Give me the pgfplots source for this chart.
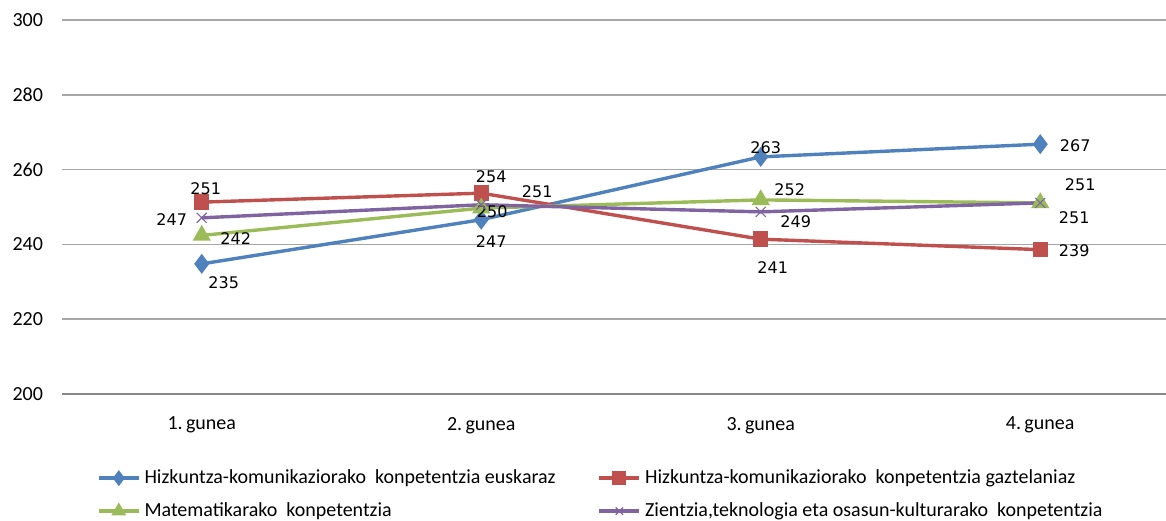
\documentclass[border=0pt]{standalone}
\usepackage{pgfplots}
\pgfplotsset{compat=1.18}
\usepackage{pgfplotstable}
\usepackage{fontspec}
\setmainfont{Carlito}
\newfontfamily\labfont{DejaVu Sans}
\definecolor{cblue}{HTML}{4F81BD}
\definecolor{cred}{HTML}{C0504D}
\definecolor{cgreen}{HTML}{9BBB59}
\definecolor{cpurple}{HTML}{8064A2}
\definecolor{cgrid}{HTML}{A6A6A6}
\definecolor{caxis}{HTML}{868686}

\pgfplotstableread{
x y dx dy
1 234.8 11 -9.5
2 246.6 5 -11
3 263.4 2.5 4.5
4 266.8 17.5 -1
}\tblue
\pgfplotstableread{
x y dx dy
1 251.3 2 6.5
2 253.7 5 8
3 241.4 6 -14
4 238.6 17 -0.5
}\tred
\pgfplotstableread{
x y dx dy
1 242.4 17 -1.5
2 249.7 5.5 -2
3 251.9 14.5 5
4 251.1 17 -7.5
}\tgreen
\pgfplotstableread{
x y dx dy
1 247.1 -15 -1
2 250.6 28 6.5
3 248.7 17.5 -5
4 251.1 20 9
}\tpurple

\begin{document}
\begin{tikzpicture}
\useasboundingbox (-31pt,-63pt) rectangle (552pt,197pt);
\begin{axis}[
  scale only axis,
  width=552pt, height=187pt,
  xmin=0.5, xmax=4.45,
  ymin=200, ymax=300,
  ytick={200,220,240,260,280,300},
  xtick={1,2,3,4},
  xticklabels={1.\,gunea,2.\,gunea,3.\,gunea,4.\,gunea},
  /pgf/number format/assume math mode=true,
  major tick length=0pt,
  axis lines*=left,
  y axis line style={draw=none},
  x axis line style={draw=caxis, line width=0.8pt},
  ymajorgrids,
  major grid style={draw=cgrid, line width=0.8pt},
  tick label style={font=\fontsize{10}{12}\selectfont},
  yticklabel style={xshift=-6pt},
  xticklabel style={yshift=-8pt},
  clip=false,
  legend columns=2,
  legend cell align=left,
  legend style={draw=none, fill=none, at={(0.026,-0.18)}, anchor=north west,
    font=\fontsize{10}{12}\selectfont, row sep=4pt,
    /tikz/every even column/.append style={column sep=19pt}},
  legend image code/.code={
    \draw[#1, mark size=2.6pt, mark repeat=2, mark phase=2] plot coordinates {(0pt,0pt) (10pt,0pt) (20pt,0pt)};},
  nodes near coords={\pgfmathprintnumber[fixed,precision=0,assume math mode=true]{\pgfplotspointmeta}},
  visualization depends on={\thisrow{dx} \as \dx},
  visualization depends on={\thisrow{dy} \as \dy},
  every node near coord/.append style={anchor=center, xshift=\dx pt, yshift=\dy pt,
    text=black, font=\labfont\fontsize{8}{10}\selectfont, inner sep=0pt},
]
\addplot[color=cblue, line width=1.7pt, mark=diamond*, mark size=3.6pt, mark options={solid}] table[x=x,y=y] {\tblue};
\addlegendentry{Hizkuntza-komunikaziorako\ \ konpetentzia euskaraz}
\addplot[color=cred, line width=1.7pt, mark=square*, mark size=3pt, mark options={solid}] table[x=x,y=y] {\tred};
\addlegendentry{Hizkuntza-komunikaziorako\ \ konpetentzia gaztelaniaz}
\addplot[color=cgreen, line width=1.7pt, mark=triangle*, mark size=3.6pt, mark options={solid}] table[x=x,y=y] {\tgreen};
\addlegendentry{Matematikarako\ \ konpetentzia}
\addplot[color=cpurple, line width=1.7pt, mark=x, mark size=3.5pt, mark options={solid, line width=0.6pt}] table[x=x,y=y] {\tpurple};
\addlegendentry{Zientzia,teknologia eta osasun-kulturarako\ \ konpetentzia}
\end{axis}
\end{tikzpicture}
\end{document}
